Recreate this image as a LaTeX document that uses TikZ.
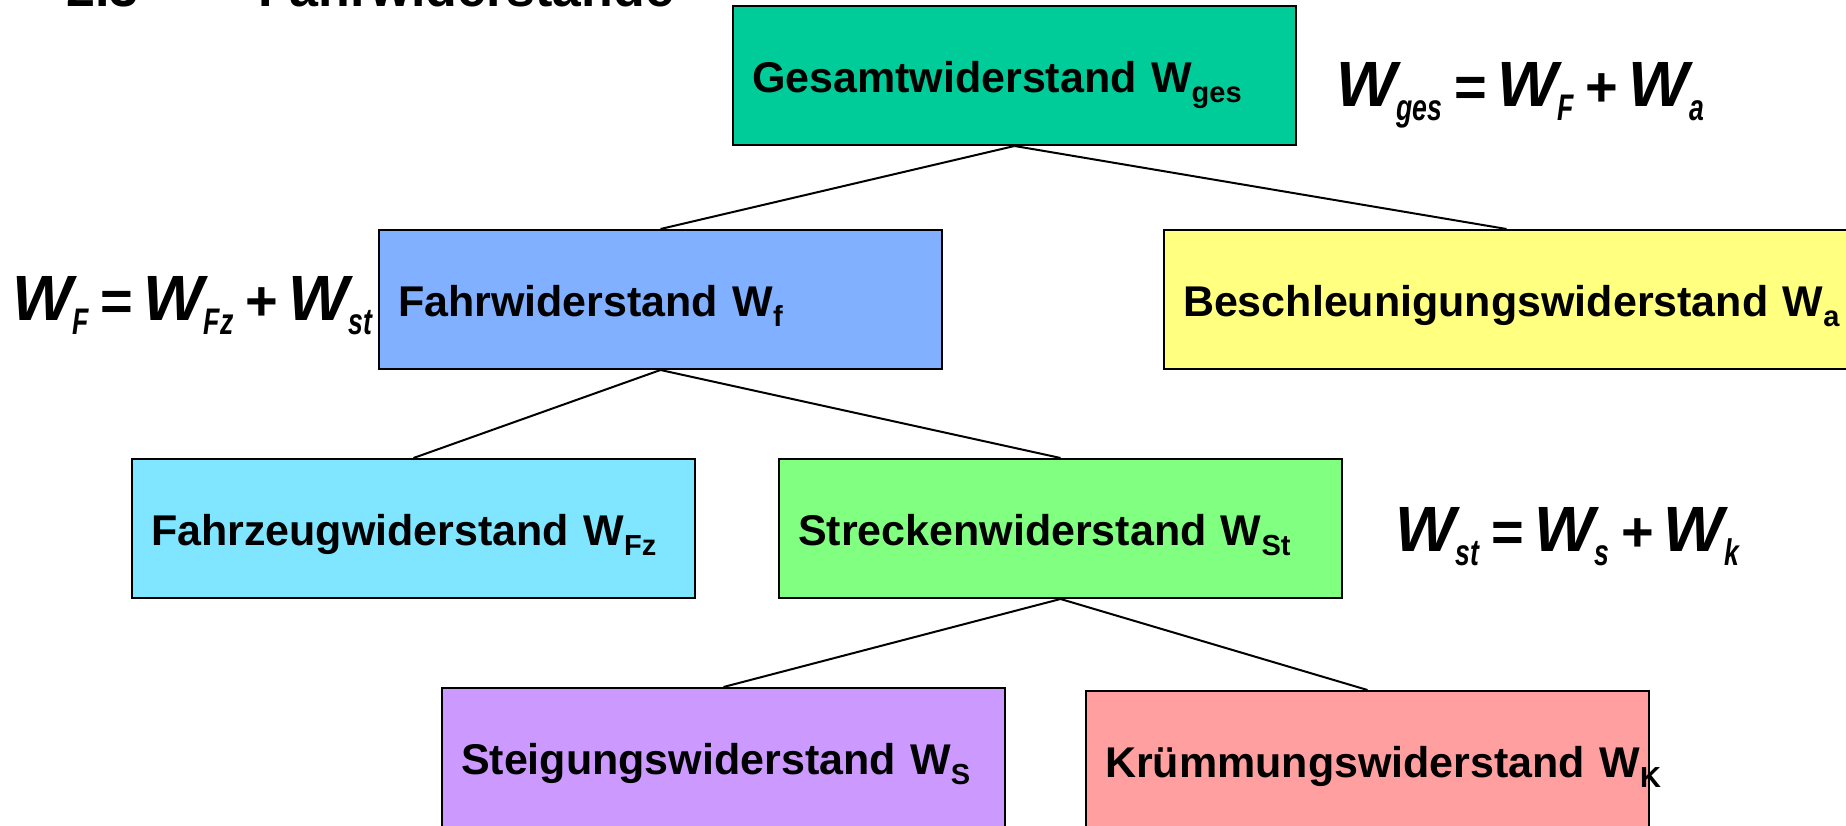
\documentclass[tikz,border=0pt]{standalone}
\usepackage{fontspec}
\setmainfont{Liberation Sans}
\definecolor{cGes}{HTML}{00CC99}
\definecolor{cFahr}{HTML}{80B0FF}
\definecolor{cBes}{HTML}{FFFF80}
\definecolor{cFz}{HTML}{80E6FF}
\definecolor{cSt}{HTML}{80FF80}
\definecolor{cSg}{HTML}{CC99FF}
\definecolor{cKr}{HTML}{FF9F9F}
\newcommand\bsub[1]{\raisebox{-10pt}{\fontsize{29}{31}\selectfont #1}}
\newcommand\fsub[1]{\raisebox{-14pt}{\fontsize{37}{40}\selectfont\addfontfeature{FakeStretch=0.72}#1}}
\newcommand\fop[1]{\hspace{12pt}{\fontsize{56}{60}\selectfont\upshape #1}\hspace{10pt}}
\newcommand\boxfont{\fontsize{43}{50}\selectfont\bfseries}
\newcommand\formfont{\fontsize{64}{72}\selectfont\bfseries\itshape}
\begin{document}
\begin{tikzpicture}[x=1pt,y=-1pt,
  box/.style={draw=black, line width=2pt, minimum height=139pt,
    text width=525pt, inner xsep=19pt, inner ysep=0pt, align=left,
    text height=34pt, text depth=0pt, font=\boxfont, anchor=north west},
  link/.style={draw=black, line width=2pt},
  formula/.style={anchor=base west, inner sep=0pt, font=\formfont},
  titletext/.style={anchor=base west, inner sep=0pt, font=\fontsize{52}{60}\selectfont\bfseries}]
\useasboundingbox (0,0) rectangle (1846,826);
% title (cut off at the top edge)
\node[titletext] (num) at (66,7) {2.3};
\node[titletext] (ttl) at (258,7) {Fahrwiderstände};
% boxes
\node[box, fill=cGes] (G) at (732,5) {\mbox{Gesamtwiderstand W\bsub{ges}}};
\node[box, fill=cFahr] (F) at (378,229) {\mbox{Fahrwiderstand W\bsub{f}}};
\node[box, fill=cBes, text width=647pt] (B) at (1163,229) {\mbox{Beschleunigungswiderstand W\bsub{a}}};
\node[box, fill=cFz] (Fz) at (131,458) {\mbox{Fahrzeugwiderstand W\bsub{Fz}}};
\node[box, fill=cSt] (St) at (778,458) {\mbox{Streckenwiderstand W\bsub{St}}};
\node[box, fill=cSg] (S) at (441,687) {\mbox{Steigungswiderstand W\bsub{S}}};
\node[box, fill=cKr] (K) at (1085,690) {\mbox{Krümmungswiderstand W\bsub{K}}};
% connectors
\draw[link] (G.south) -- (F.north);
\draw[link] (G.south) -- (B.north);
\draw[link] (F.south) -- (Fz.north);
\draw[link] (F.south) -- (St.north);
\draw[link] (St.south) -- (S.north);
\draw[link] (St.south) -- (K.north);
% formulas
\node[formula] (f1) at (1336,107) {W\fsub{ges}\fop{=}W\fsub{F}\fop{+}W\fsub{a}};
\node[formula] (f2) at (12,320) {W\fsub{F}\fop{=}W\fsub{Fz}\fop{+}W\fsub{st}};
\node[formula] (f3) at (1395,551) {W\fsub{st}\fop{=}W\fsub{s}\fop{+}W\fsub{k}};
\end{tikzpicture}
\end{document}
